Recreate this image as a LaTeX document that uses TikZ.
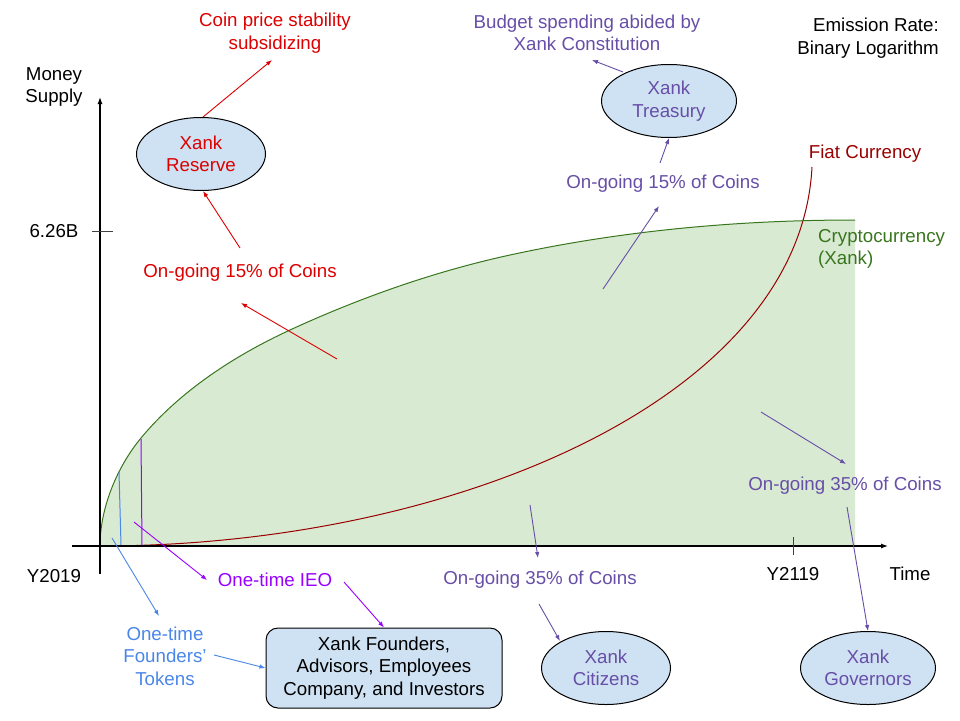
\documentclass[tikz,border=0pt]{standalone}
\usepackage{fontspec}
\setmainfont{Liberation Sans}
\usetikzlibrary{shapes.geometric,arrows.meta}
\definecolor{xred}{HTML}{DD0000}
\definecolor{xfiat}{HTML}{990000}
\definecolor{xpurple}{HTML}{674EA7}
\definecolor{xvio}{HTML}{9900FF}
\definecolor{xblue}{HTML}{4A86E8}
\definecolor{xgreen}{HTML}{38761D}
\definecolor{xgfill}{HTML}{D9EAD3}
\definecolor{xbfill}{HTML}{CFE2F3}
\begin{document}
\begin{tikzpicture}[x=1pt,y=-1pt,font=\fontsize{18.7}{22.5}\selectfont,
  lbl/.style={inner sep=0pt,align=center},
  oval/.style={ellipse,draw=black,line width=1pt,fill=xbfill,inner sep=0pt,minimum height=73pt,align=center},
  arr/.style={line width=0.9pt,-{Latex[length=6pt,width=4.5pt]}},
  axis/.style={line width=1.2pt,black},
  tick/.style={line width=1pt,black!75}]
\useasboundingbox (0,0) rectangle (960,720);
% key points of the curves
\coordinate (o) at (100,546);
\coordinate (g1) at (141,438);
\coordinate (g2) at (290,330);
\coordinate (g3) at (510,255);
\coordinate (g4) at (855,220);
\coordinate (g5) at (855,546);
\coordinate (f3) at (812,167);
% filled region under the cryptocurrency curve
\fill[xgfill] (o) .. controls (100,508) and (117,467) .. (g1)
  .. controls (180,391) and (234.5,355.6) .. (g2)
  .. controls (360,297.7) and (435,271.3) .. (g3)
  .. controls (623,230.4) and (739,220) .. (g4) -- (g5) -- cycle;
% fiat curve
\draw[xfiat,line width=1pt] (o) .. controls (450,546) and (800,400) .. (f3);
% crypto curve
\draw[xgreen,line width=1pt] (o) .. controls (100,508) and (117,467) .. (g1)
  .. controls (180,391) and (234.5,355.6) .. (g2)
  .. controls (360,297.7) and (435,271.3) .. (g3)
  .. controls (623,230.4) and (739,220) .. (g4);
% axes
\coordinate (yb) at (100,574);
\coordinate (yt) at (100,97);
\coordinate (xl) at (72,546);
\coordinate (xr) at (888,546);
\draw[axis,-{Latex[length=7pt,width=5pt]}] (yb) -- (yt);
\draw[axis,-{Latex[length=7pt,width=5pt]}] (xl) -- (xr);
\coordinate (t1a) at (92,231);
\coordinate (t1b) at (113,231);
\coordinate (t2a) at (793,537);
\coordinate (t2b) at (793,555);
\draw[tick] (t1a) -- (t1b);
\draw[tick] (t2a) -- (t2b);
% vertical marker lines
\coordinate (bl0) at (121,545);
\coordinate (bl1) at (119,472);
\coordinate (pl0) at (142,545);
\coordinate (pl1) at (141,439);
\draw[xblue,line width=1pt] (bl0) -- (bl1);
\draw[xvio,line width=1pt] (pl0) -- (pl1);
% axis labels
\node[lbl] (money) at (54,87) {Money\\Supply};
\node[lbl] (v626) at (54,231) {6.26B};
\node[lbl] (y2019) at (54,576) {Y2019};
\node[lbl] (y2119) at (793,574) {Y2119};
\node[lbl] (time) at (910,574) {Time};
\node[lbl,align=right,anchor=east] (emis) at (939,38) {Emission Rate:\\Binary Logarithm};
% top left: reserve
\node[lbl,text=xred] (coin) at (275,33) {Coin price stability\\subsidizing};
\node[oval,minimum width=129pt,text=xred] (reserve) at (201,154) {Xank\\Reserve};
\node[lbl,text=xred] (on15r) at (240,273) {On-going 15\% of Coins};
\coordinate (r1a) at (203,117);
\coordinate (r1b) at (272,60);
\coordinate (r2a) at (240,248);
\coordinate (r2b) at (203,191);
\coordinate (r3a) at (337,359);
\coordinate (r3b) at (241,303);
\draw[arr,xred] (r1a) -- (r1b);
\draw[arr,xred] (r2a) -- (r2b);
\draw[arr,xred] (r3a) -- (r3b);
% top right: treasury
\node[lbl,text=xpurple] (budget) at (587,33) {Budget spending abided by\\Xank Constitution};
\node[oval,minimum width=135pt,text=xpurple] (treasury) at (669,101) {Xank\\Treasury};
\node[lbl,text=xpurple] (on15p) at (663,184) {On-going 15\% of Coins};
\coordinate (p1a) at (623,72);
\coordinate (p1b) at (592,60);
\coordinate (p2a) at (660,163);
\coordinate (p2b) at (669,138);
\coordinate (p3a) at (603,289);
\coordinate (p3b) at (659,206);
\draw[arr,xpurple] (p1a) -- (p1b);
\draw[arr,xpurple] (p2a) -- (p2b);
\draw[arr,xpurple] (p3a) -- (p3b);
\node[lbl,text=xfiat] (fiat) at (865,154) {Fiat Currency};
\node[lbl,text=xgreen,align=left,anchor=west] (crypto) at (818,249) {Cryptocurrency\\(Xank)};
% bottom left: founders
\node[lbl,text=xvio] (ieo) at (275,580) {One-time IEO};
\node[lbl,text=xblue] (tokens) at (165,656) {One-time\\Founders'\\Tokens};
\node[draw=black,line width=1pt,fill=xbfill,rounded corners=12pt,minimum width=236pt,minimum height=80pt,inner sep=0pt,align=center] (founders) at (384,668) {Xank Founders,\\Advisors, Employees\\Company, and Investors};
\coordinate (i1a) at (134,522);
\coordinate (i1b) at (207,580);
\coordinate (i2a) at (344,582);
\coordinate (b1a) at (112,538);
\coordinate (b1b) at (159,616);
\coordinate (b2a) at (214,655);
\draw[arr,xvio] (i1a) -- (i1b);
\draw[arr,xvio] (i2a) -- (founders.north);
\draw[arr,xblue] (b1a) -- (b1b);
\draw[arr,xblue] (b2a) -- (founders.west);
% bottom right: citizens and governors
\node[lbl,text=xpurple] (on35c) at (540,580) {On-going 35\% of Coins};
\node[oval,minimum width=129pt,text=xpurple] (citizens) at (606,668) {Xank\\Citizens};
\node[lbl,text=xpurple] (on35g) at (845,486) {On-going 35\% of Coins};
\node[oval,minimum width=135pt,text=xpurple] (governors) at (868,668) {Xank\\Governors};
\coordinate (c1a) at (530,505);
\coordinate (c1b) at (538,558);
\coordinate (c2a) at (539,604);
\coordinate (c2b) at (560,641);
\coordinate (g1a) at (761,412);
\coordinate (g1b) at (846,464);
\coordinate (g2a) at (847,507);
\draw[arr,xpurple] (c1a) -- (c1b);
\draw[arr,xpurple] (c2a) -- (c2b);
\draw[arr,xpurple] (g1a) -- (g1b);
\draw[arr,xpurple] (g2a) -- (governors.north);
\end{tikzpicture}
\end{document}
